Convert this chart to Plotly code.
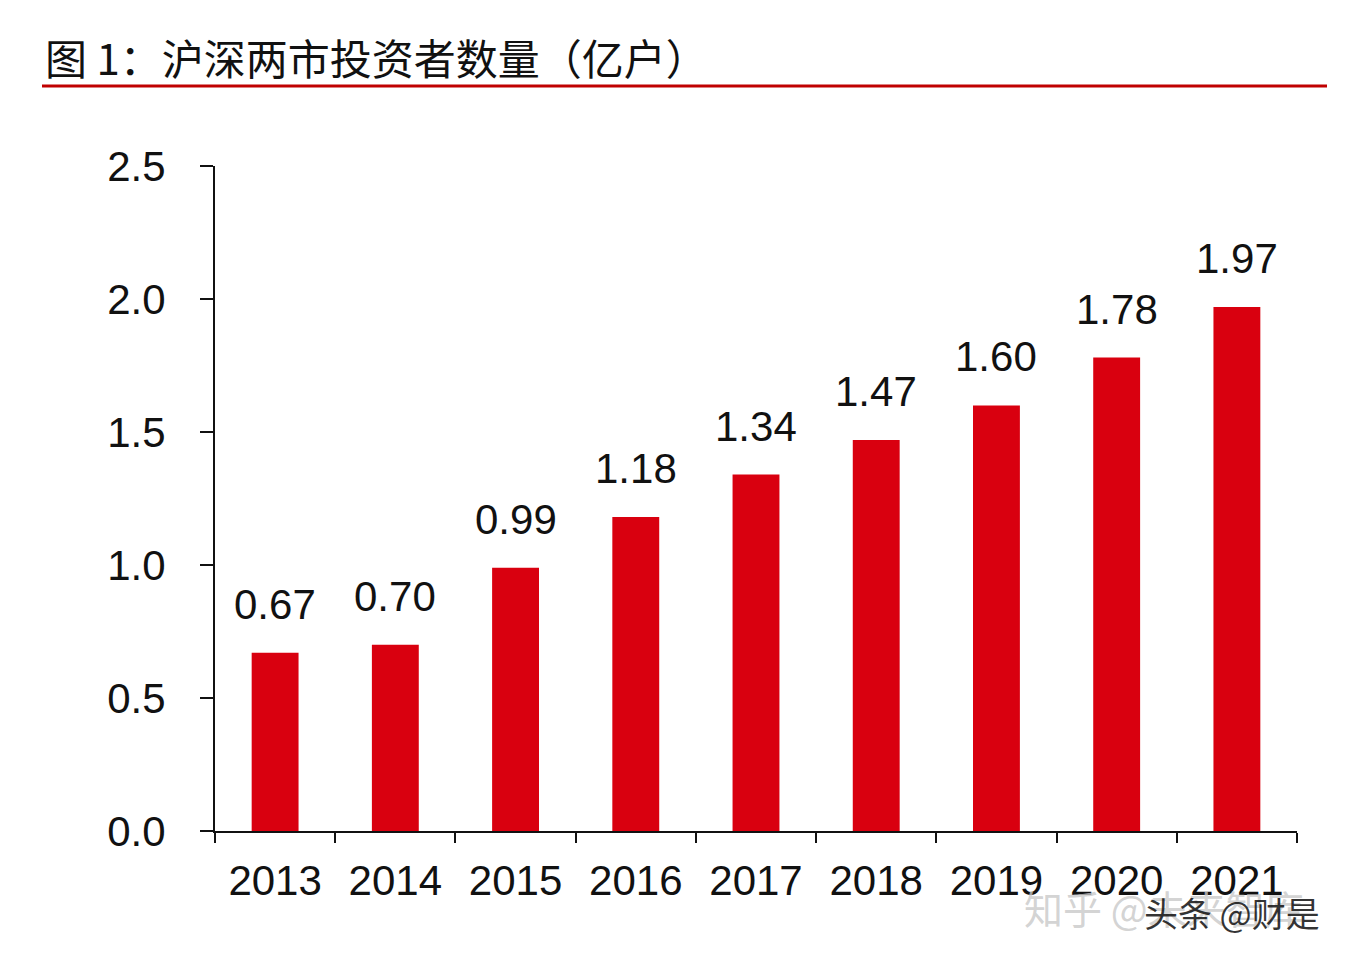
import plotly.graph_objects as go

years = ["2013", "2014", "2015", "2016", "2017", "2018", "2019", "2020", "2021"]
investors = [0.67, 0.70, 0.99, 1.18, 1.34, 1.47, 1.60, 1.78, 1.97]
y_ticks = [0.0, 0.5, 1.0, 1.5, 2.0, 2.5]
title_text = "图 1：沪深两市投资者数量（亿户）"

FONT = "Liberation Sans, Arial"
OFF = 8  # page body margin
L, R, T, B = 215 - OFF, 1348 - (1297 - OFF), 166 - OFF, 960 - (831 - OFF)
PW, PH = 1297 - 215, 831 - 166

fig = go.Figure()
fig.add_trace(go.Bar(
    x=years, y=investors,
    marker=dict(color="#D9000F", line=dict(width=0)),
    width=0.39,
    hoverinfo="x+y",
))

for i, v in enumerate(investors):
    fig.add_annotation(
        x=i, y=v, xref="x", yref="y", text=f"{v:.2f}",
        showarrow=False, yanchor="bottom", yshift=23,
        font=dict(family=FONT, size=42, color="#111111"),
    )

fig.update_layout(
    width=1348, height=960,
    paper_bgcolor="white", plot_bgcolor="white",
    margin=dict(l=L, r=R, t=T, b=B),
    showlegend=False,
    bargap=0.61,
    font=dict(family=FONT, size=42, color="#111111"),
)
fig.update_xaxes(
    type="category", categoryorder="array", categoryarray=years,
    range=[-0.5, len(years) - 0.5], autorange=False,
    showline=True, linecolor="#111111", linewidth=2,
    ticks="outside", tickson="boundaries", ticklen=10, tickwidth=2, tickcolor="#111111",
    tickfont=dict(family=FONT, size=42, color="#111111"), tickangle=0,
    showgrid=False, zeroline=False, ticklabelstandoff=12,
)
fig.update_yaxes(
    range=[0, 2.5], autorange=False, tickvals=y_ticks, ticktext=[f"{v:.1f}" for v in y_ticks],
    showline=True, linecolor="#111111", linewidth=2,
    ticks="outside", ticklen=13, tickwidth=2, tickcolor="#111111",
    tickfont=dict(family=FONT, size=42, color="#111111"),
    showgrid=False, zeroline=False, ticklabelstandoff=26,
)

# Title and red rule
fig.add_annotation(
    xref="paper", yref="paper", x=(43 - 215) / PW, y=1 + (166 - 56) / PH,
    xanchor="left", yanchor="middle", showarrow=False,
    text=title_text,
    font=dict(family="Noto Sans CJK SC", size=42, color="#111111"),
)
fig.add_shape(
    type="line", xref="paper", yref="paper",
    x0=(42 - 215) / PW, x1=(1327 - 215) / PW,
    y0=1 + (166 - 86) / PH, y1=1 + (166 - 86) / PH,
    line=dict(color="#C00000", width=3),
)

# Watermarks
fig.add_annotation(
    xref="paper", yref="paper", x=(1022 - 215) / PW, y=-(907 - 831) / PH,
    xanchor="left", yanchor="middle", showarrow=False,
    text="知乎 @未来智库",
    font=dict(family="Noto Sans CJK SC", size=39, color="rgba(200,200,200,0.8)"),
)
fig.add_annotation(
    xref="paper", yref="paper", x=(1142 - 215) / PW, y=-(912 - 831) / PH,
    xanchor="left", yanchor="middle", showarrow=False,
    text="头条 @财是",
    font=dict(family="Noto Sans CJK SC", size=34, color="rgba(15,15,15,0.85)"),
)

fig.write_html("out.html")
